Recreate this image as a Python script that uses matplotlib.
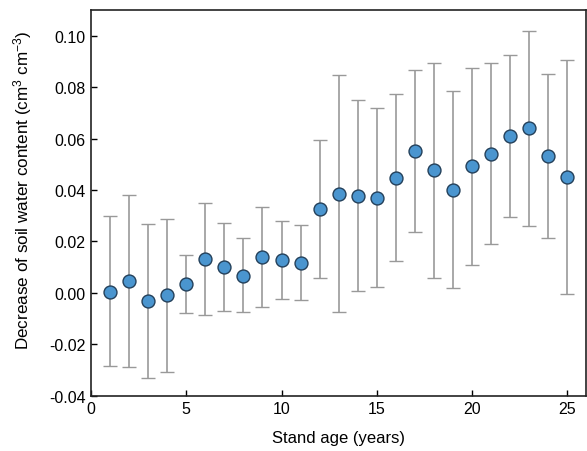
import matplotlib
matplotlib.use("Agg")
import matplotlib.pyplot as plt
import numpy as np

#===============================================================================#
# data                                                  #
#===============================================================================#

age = [1, 2, 3, 4, 5, 6, 7, 8, 9, 10, 11, 12, 13,
       14, 15, 16, 17, 18, 19, 20, 21, 22, 23, 24, 25]
mean = [0.0005, 0.0048, -0.0033, -0.0010, 0.0036, 0.0132, 0.0100, 0.0067, 0.0138,
        0.0128, 0.0117, 0.0326, 0.0386, 0.0378, 0.0370, 0.0448, 0.0552, 0.0476,
        0.0400, 0.0492, 0.0540, 0.0609, 0.0639, 0.0532, 0.0451]
upper = [0.0297, 0.0382, 0.0269, 0.0286, 0.0148, 0.0351, 0.0271, 0.0212, 0.0335,
         0.0281, 0.0262, 0.0593, 0.0848, 0.0751, 0.0720, 0.0773, 0.0867, 0.0895,
         0.0786, 0.0873, 0.0894, 0.0925, 0.1017, 0.0850, 0.0904]
lower = [-0.0285, -0.0288, -0.0332, -0.0306, -0.0078, -0.0084, -0.0071, -0.0075, -0.0056,
         -0.0023, -0.0029, 0.0058, -0.0075, 0.0008, 0.0023, 0.0124, 0.0236, 0.0059,
         0.0018, 0.0109, 0.0190, 0.0294, 0.0260, 0.0212, -0.0005]

xticks = [0, 5, 10, 15, 20, 25]
yticks = [-0.04, -0.02, 0.00, 0.02, 0.04, 0.06, 0.08, 0.10]

#===============================================================================#
# plot                                                                          #
#===============================================================================#

plt.rcParams['font.family'] = ['Liberation Sans', 'DejaVu Sans']
plt.rcParams['mathtext.fontset'] = 'custom'
plt.rcParams['mathtext.rm'] = 'Liberation Sans'
plt.rcParams['mathtext.it'] = 'Liberation Sans'

mean = np.array(mean)
yerr = [mean - np.array(lower), np.array(upper) - mean]

fig = plt.figure(figsize=(5.87, 4.52), dpi=100)
ax = fig.add_axes([0.155, 0.122, 0.844, 0.854])

ax.errorbar(age, mean, yerr=yerr, fmt='o', color='#999999', ecolor='#999999',
            elinewidth=1.2, capsize=5, capthick=1.1,
            markerfacecolor='#4a95cf', markeredgecolor='#24405a',
            markeredgewidth=1.0, markersize=9.3, zorder=3)

ax.set_xlim(0, 26)
ax.set_ylim(-0.04, 0.11)
ax.set_xticks(xticks)
ax.set_yticks(yticks)
ax.set_yticklabels([f"{v:.2f}" for v in yticks])
ax.tick_params(direction='in', length=4, width=1, labelsize=11.5, pad=4)
for s in ax.spines.values():
    s.set_linewidth(1.2)
    s.set_color('#222222')

ax.set_xlabel("Stand age (years)", fontsize=12, labelpad=10)
ax.set_ylabel("Decrease of soil water content (cm$^3$ cm$^{-3}$)", fontsize=12.3, labelpad=6)
ax.yaxis.set_label_coords(-0.115, 0.535)

fig.savefig("out.png", dpi=100)
plt.close(fig)
